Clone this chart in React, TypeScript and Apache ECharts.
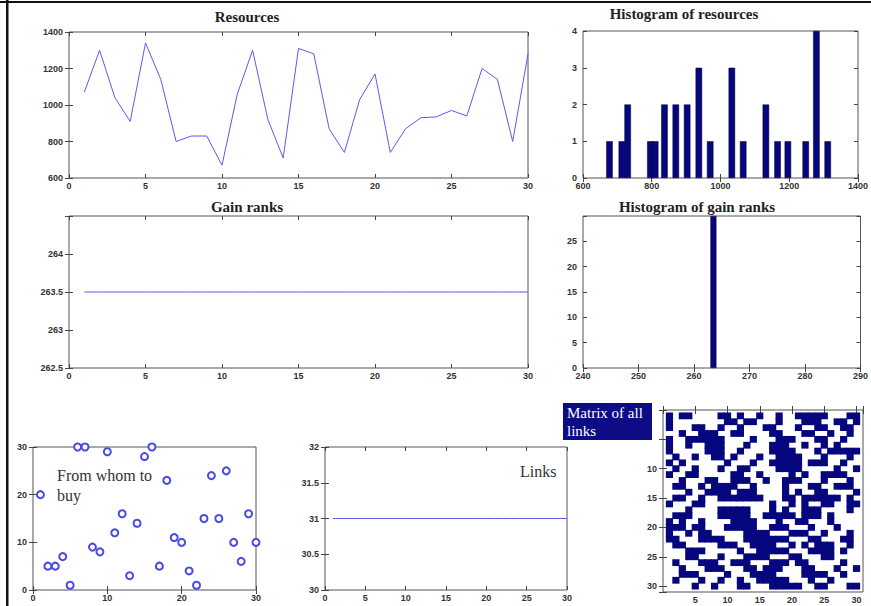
import React, { useEffect, useRef } from "react";
import * as echarts from "echarts";

// ---------- data ----------
const AGENTS = [1, 2, 3, 4, 5, 6, 7, 8, 9, 10, 11, 12, 13, 14, 15, 16, 17, 18, 19, 20, 21, 22, 23, 24, 25, 26, 27, 28, 29, 30];
const RESOURCES = [1070, 1300, 1040, 910, 1340, 1140, 800, 830, 830, 670, 1060, 1300, 920, 710, 1310, 1280, 870, 740, 1030, 1170, 740, 870, 930, 935, 970, 940, 1200, 1140, 800, 1280];
const RES_HIST_BINS = [677, 713, 730, 796, 810, 837, 870, 903, 937, 970, 1033, 1066, 1132, 1166, 1196, 1248, 1279, 1312];
const RES_HIST_COUNTS = [1, 1, 2, 1, 1, 2, 2, 2, 3, 1, 3, 1, 2, 1, 1, 1, 4, 1];
const GAIN_RANKS = [263.5, 263.5, 263.5, 263.5, 263.5, 263.5, 263.5, 263.5, 263.5, 263.5, 263.5, 263.5, 263.5, 263.5, 263.5, 263.5, 263.5, 263.5, 263.5, 263.5, 263.5, 263.5, 263.5, 263.5, 263.5, 263.5, 263.5, 263.5, 263.5, 263.5];
const GAIN_HIST_BINS = [263.5];
const GAIN_HIST_COUNTS = [30];
const BUY_FROM = [20, 5, 5, 7, 1, 30, 30, 9, 8, 29, 12, 16, 3, 14, 28, 30, 5, 23, 11, 10, 4, 1, 15, 24, 15, 25, 10, 6, 16, 10];
const LINK_COUNTS = [31, 31, 31, 31, 31, 31, 31, 31, 31, 31, 31, 31, 31, 31, 31, 31, 31, 31, 31, 31, 31, 31, 31, 31, 31, 31, 31, 31, 31, 31];
// columns linked, per row of the link matrix
const LINK_MATRIX: number[][] = [
  [1, 3, 4, 9, 10, 12, 15, 18, 21, 22, 23, 24, 25, 29, 30],
  [1, 10, 11, 13, 14, 18, 22, 23, 24, 27, 28, 30],
  [1, 5, 6, 9, 12, 16, 17, 21, 24, 25, 28, 29],
  [3, 6, 7, 8, 11, 12, 17, 18, 22, 23, 26, 29],
  [1, 4, 5, 6, 7, 8, 9, 14, 18, 19, 20, 24, 25, 28],
  [1, 4, 7, 8, 9, 13, 17, 18, 19, 22, 25, 27],
  [1, 7, 8, 9, 12, 17, 18, 19, 20, 24, 26, 27, 28, 29, 30],
  [2, 5, 8, 9, 11, 15, 18, 19, 20, 21, 25, 29],
  [1, 3, 10, 14, 17, 18, 19, 20, 21, 23, 24, 25, 28],
  [2, 5, 9, 12, 13, 18, 19, 20, 21, 27, 30],
  [1, 4, 5, 11, 12, 15, 20, 22, 25, 26, 27, 28],
  [3, 7, 8, 11, 12, 13, 16, 19, 20, 21, 25, 29],
  [2, 3, 6, 8, 9, 10, 11, 14, 19, 23, 24, 27, 28, 29],
  [4, 7, 8, 9, 10, 12, 13, 14, 19, 21, 24, 25, 30],
  [2, 3, 6, 9, 10, 11, 12, 13, 14, 15, 19, 20, 22, 23, 24, 25, 26, 27, 29],
  [1, 5, 6, 17, 20, 22, 25, 26, 29, 30],
  [4, 9, 10, 11, 12, 13, 17, 19, 22, 23, 24, 29],
  [2, 3, 4, 9, 10, 11, 12, 13, 16, 17, 18, 19, 20, 22, 23, 24, 26],
  [1, 3, 6, 11, 12, 13, 14, 18, 21, 22, 26],
  [1, 2, 3, 5, 6, 10, 11, 12, 13, 14, 17, 18, 19, 23, 27],
  [1, 4, 6, 7, 13, 14, 15, 16, 20, 21, 22, 25, 29],
  [1, 2, 6, 7, 8, 9, 13, 14, 15, 16, 17, 18, 19, 23, 24, 28, 29],
  [2, 3, 9, 10, 11, 14, 15, 16, 17, 20, 22, 24, 25, 26, 29],
  [4, 5, 6, 12, 15, 16, 17, 18, 19, 23, 24, 25, 26, 28],
  [4, 5, 9, 13, 14, 15, 16, 20, 21, 25, 26],
  [2, 6, 7, 8, 11, 12, 13, 17, 18, 19, 21, 22, 28],
  [3, 7, 8, 9, 13, 14, 16, 17, 18, 22, 23, 27, 30],
  [3, 4, 5, 10, 14, 15, 16, 17, 22, 23, 24, 25, 28],
  [2, 6, 9, 12, 15, 16, 17, 18, 19, 23, 26],
  [5, 8, 12, 13, 17, 18, 19, 20, 21, 24, 25, 29, 30],
];

// ---------- styles ----------
const LABEL = {
  fontSize: 9,
  color: "#333",
  fontWeight: "bold" as const,
  fontFamily: "'Liberation Sans', Arial, sans-serif",
};
const TICK = { inside: true, length: 4, lineStyle: { color: "#444", width: 1 } };
const LINE_BLUE = "#5a5af0";
const NAVY = "#06067e";
const SERIF = "'Liberation Serif', 'Times New Roman', serif";
const plain = (v: number) => String(v);

function mkX(grid: number, min: number, max: number, interval: number, fmt: (v: number) => string = plain) {
  const base: any = {
    type: "value", gridIndex: grid, min, max, interval,
    splitLine: { show: false }, axisLine: { show: false }, axisTick: TICK,
  };
  return [
    { ...base, position: "bottom", axisLabel: { ...LABEL, margin: 3, formatter: fmt } },
    { ...base, position: "top", axisLabel: { show: false } },
  ];
}
function mkY(grid: number, min: number, max: number, interval: number, fmt: (v: number) => string = plain, inverse = false) {
  const base: any = {
    type: "value", gridIndex: grid, min, max, interval, inverse,
    splitLine: { show: false }, axisLine: { show: false }, axisTick: TICK,
  };
  return [
    { ...base, position: "left", axisLabel: { ...LABEL, margin: 6, formatter: fmt } },
    { ...base, position: "right", axisLabel: { show: false } },
  ];
}

const gridBox = (left: number, top: number, width: number, height: number) => ({
  left, top, width, height, show: true, borderColor: "#555", borderWidth: 1, backgroundColor: "transparent",
});

function buildOption(): any {
  const matrixPts: number[][] = [];
  LINK_MATRIX.forEach((cols, r) => cols.forEach((c) => matrixPts.push([c, r + 1])));

  const title = (text: string, x: number, y: number) => ({
    type: "text", x, y, z: 10,
    style: { text, fill: "#222", font: `bold 15px ${SERIF}`, align: "center", verticalAlign: "middle" },
  });

  return {
    animation: false,
    backgroundColor: "#fff",
    grid: [
      gridBox(69, 32, 459, 146),
      gridBox(583, 31, 286, 147),
      gridBox(69, 216, 459, 152),
      gridBox(583, 216, 286, 152),
      gridBox(33, 447, 223, 143),
      gridBox(325, 447, 242, 143),
      gridBox(663, 410, 200, 182),
    ],
    xAxis: [
      ...mkX(0, 0, 30, 5),
      ...mkX(1, 600, 1400, 200),
      ...mkX(2, 0, 30, 5),
      ...mkX(3, 240, 290, 10),
      ...mkX(4, 0, 30, 10),
      ...mkX(5, 0, 30, 5),
      ...mkX(6, 0, 31, 5, (v) => (v >= 5 && v % 5 === 0 ? String(v) : "")),
    ],
    yAxis: [
      ...mkY(0, 600, 1400, 200),
      ...mkY(1, 0, 4, 1),
      ...mkY(2, 262.5, 264.5, 0.5, (v) => (v > 264.2 ? "" : String(v))),
      ...mkY(3, 0, 30, 5, (v) => (v >= 30 ? "" : String(v))),
      ...mkY(4, 0, 30, 10),
      ...mkY(5, 30, 32, 0.5),
      ...mkY(6, 0, 31, 5, (v) => (v >= 10 && v % 5 === 0 ? String(v) : ""), true),
    ],
    series: [
      {
        type: "line", xAxisIndex: 0, yAxisIndex: 0, symbol: "none",
        data: AGENTS.map((a, i) => [a, RESOURCES[i]]),
        lineStyle: { color: LINE_BLUE, width: 1 },
      },
      {
        type: "bar", xAxisIndex: 2, yAxisIndex: 2, barWidth: 6.5,
        data: RES_HIST_BINS.map((b, i) => [b, RES_HIST_COUNTS[i]]),
        itemStyle: { color: NAVY, borderColor: "#000030", borderWidth: 0.5 },
      },
      {
        type: "line", xAxisIndex: 4, yAxisIndex: 4, symbol: "none",
        data: AGENTS.map((a, i) => [a, GAIN_RANKS[i]]),
        lineStyle: { color: LINE_BLUE, width: 1 },
      },
      {
        type: "bar", xAxisIndex: 6, yAxisIndex: 6, barWidth: 6,
        data: GAIN_HIST_BINS.map((b, i) => [b, GAIN_HIST_COUNTS[i]]),
        itemStyle: { color: NAVY, borderColor: "#000030", borderWidth: 0.5 },
      },
      {
        type: "scatter", xAxisIndex: 8, yAxisIndex: 8, symbol: "emptyCircle", symbolSize: 7, clip: false,
        data: AGENTS.map((a, i) => [a, BUY_FROM[i]]),
        itemStyle: { color: "#4a4ae6", borderWidth: 1, opacity: 1 },
      },
      {
        type: "line", xAxisIndex: 10, yAxisIndex: 10, symbol: "none",
        data: AGENTS.map((a, i) => [a, LINK_COUNTS[i]]),
        lineStyle: { color: LINE_BLUE, width: 1 },
      },
      {
        type: "scatter", xAxisIndex: 12, yAxisIndex: 12, symbol: "rect", symbolSize: [7.2, 6.8],
        data: matrixPts,
        itemStyle: { color: "#06067e", opacity: 1 },
      },
    ],
    graphic: [
      { type: "rect", z: 20, shape: { x: 0, y: 1, width: 871, height: 2 }, style: { fill: "#111" } },
      { type: "rect", z: 20, shape: { x: 6, y: 0, width: 2.5, height: 606 }, style: { fill: "#111" } },
      title("Resources", 247, 17),
      title("Histogram of resources", 684, 14),
      title("Gain ranks", 247, 207),
      title("Histogram of gain ranks", 697, 207),
      {
        type: "text", x: 57, y: 465, z: 10,
        style: { text: "From whom to\nbuy", fill: "#333", font: `16px ${SERIF}`, lineHeight: 20, align: "left", verticalAlign: "top" },
      },
      {
        type: "text", x: 520, y: 463, z: 10,
        style: { text: "Links", fill: "#333", font: `16px ${SERIF}`, align: "left", verticalAlign: "top" },
      },
      { type: "rect", z: 20, shape: { x: 563, y: 403, width: 89, height: 37 }, style: { fill: "#0c0c85" } },
      {
        type: "text", x: 567, y: 404, z: 21,
        style: { text: "Matrix of all\nlinks", fill: "#fff", font: `15px ${SERIF}`, lineHeight: 18, align: "left", verticalAlign: "top" },
      },
    ],
  };
}

export default function App() {
  const ref = useRef<HTMLDivElement>(null);
  useEffect(() => {
    if (!ref.current) return;
    const chart = echarts.init(ref.current, null, { renderer: "svg" });
    chart.setOption(buildOption());
    return () => chart.dispose();
  }, []);
  return (
    <div
      ref={ref}
      style={{ position: "fixed", left: 0, top: 0, width: 871, height: 606, background: "#fff" }}
    />
  );
}
